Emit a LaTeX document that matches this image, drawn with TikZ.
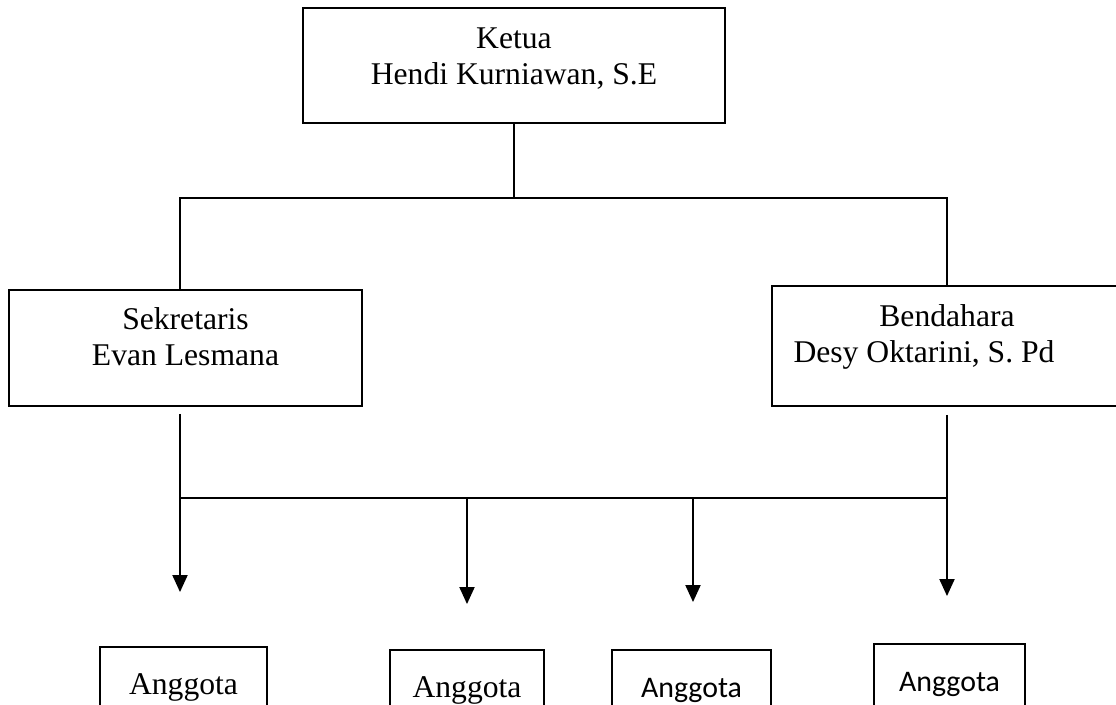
\documentclass[tikz,border=0pt]{standalone}
\usepackage{fontspec}
\setmainfont{Liberation Serif}
\newfontfamily\calibrifont{Carlito}
\usepackage{tikz}
\usetikzlibrary{arrows.meta,positioning,calc}

\begin{document}
\begin{tikzpicture}[
        x=0.02cm, y=-0.02cm,
        box/.style={rectangle, draw=black, line width=1.1pt, inner sep=0pt},
        boxtext/.style={align=center, inner sep=0pt, font=\fontsize{18}{20.7}\selectfont},
        member/.style={rectangle, draw=black, line width=1.1pt, minimum height=1.6cm, inner sep=0pt, font=\fontsize{18}{20}\selectfont},
        link/.style={line width=1.1pt},
        arrow/.style={line width=1.1pt, -{Triangle[width=0.3cm, length=0.34cm]}},
    ]
    \path[use as bounding box] (0,0) rectangle (1116,704);
    \clip (0,0) rectangle (1116,704);

    % Pengurus (top and second row)
    \node[box, minimum width=8.44cm, minimum height=2.3cm] (ketua) at (514,65.5) {};
    \node[boxtext, below=0.40cm of ketua.north] (ketuatxt) {Ketua\\Hendi Kurniawan, S.E};

    \node[box, minimum width=7.06cm, minimum height=2.32cm] (sekre) at (185.5,348) {};
    \node[boxtext, below=0.36cm of sekre.north] (sekretxt) {Sekretaris\\Evan Lesmana};

    \node[box, minimum width=7cm, minimum height=2.4cm] (benda) at (947,346) {};
    \node[boxtext, below=0.38cm of benda.north] (bendatxt) {Bendahara\\Desy Oktarini, S. Pd\kern0.92cm};

    % Anggota (bottom row)
    \node[member, minimum width=3.34cm] (agt1) at (183.5,687) {Anggota};
    \node[member, minimum width=3.08cm] (agt2) at (467,690) {Anggota};
    \node[member, minimum width=3.18cm, font=\calibrifont\fontsize{17}{20}\selectfont] (agt3) at (691.5,690) {Anggota};
    \node[member, minimum width=3.02cm, font=\calibrifont\fontsize{17}{20}\selectfont] (agt4) at (949.5,684) {Anggota};

    % Ketua to sekretaris and bendahara
    \coordinate (upL) at (180,198);
    \coordinate (upR) at (947,198);
    \draw[link] (ketua.south) -- (ketua.south |- upL);
    \draw[link] (sekre.north -| upL) -- (upL) -- (upR) -- (benda.north);

    % Down to the anggota
    \coordinate (lowL) at (180,498);
    \coordinate (lowR) at (947,498);
    \draw[link] (lowL) -- (lowR);
    \draw[arrow, shorten <=0.14cm, shorten >=1.08cm] (sekre.south -| lowL) -- (agt1.north -| lowL);
    \draw[arrow, shorten >=0.9cm] (lowL -| agt2.north) -- (agt2.north);
    \draw[arrow, shorten >=0.94cm] ($(lowL -| agt3.north)+(1.5,0)$) -- ($(agt3.north)+(1.5,0)$);
    \draw[arrow, shorten <=0.16cm, shorten >=0.94cm] (benda.south) -- (benda.south |- agt4.north);

\end{tikzpicture}
\end{document}
